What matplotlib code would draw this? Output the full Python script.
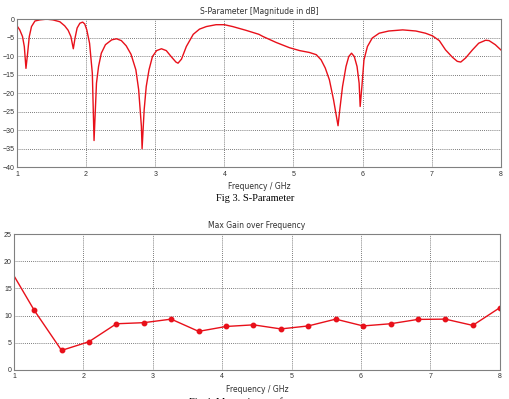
import numpy as np
import matplotlib
matplotlib.use('Agg')
import matplotlib.pyplot as plt

#----------S-parameter trace----------
s_freq = [1.00, 1.04, 1.08, 1.106, 1.13, 1.154, 1.178, 1.21, 1.26, 1.33, 1.43, 1.52, 1.62,
          1.69, 1.74, 1.78, 1.815, 1.84, 1.87, 1.91, 1.95, 1.98, 2.01, 2.05, 2.09, 2.115,
          2.15, 2.18, 2.22, 2.28, 2.37, 2.44, 2.51, 2.58, 2.65, 2.72, 2.76, 2.80, 2.81,
          2.84, 2.87, 2.91, 2.96, 3.02, 3.09, 3.16, 3.23, 3.30, 3.33, 3.38, 3.45, 3.55,
          3.64, 3.74, 3.88, 4.00, 4.12, 4.31, 4.50, 4.56, 4.75, 4.94, 5.09, 5.23, 5.33,
          5.40, 5.46, 5.52, 5.58, 5.63, 5.645, 5.67, 5.71, 5.76, 5.80, 5.84, 5.88, 5.92,
          5.95, 5.965, 5.99, 6.02, 6.07, 6.14, 6.24, 6.38, 6.58, 6.77, 6.91, 7.01, 7.11,
          7.20, 7.30, 7.37, 7.42, 7.49, 7.59, 7.68, 7.78, 7.83, 7.92, 8.00]
s_db = [-1.8, -2.9, -4.7, -7.4, -13.3, -9.2, -4.7, -2.0, -0.5, -0.2, 0.0, -0.2, -0.7,
        -1.8, -3.0, -4.7, -8.0, -5.1, -2.4, -1.1, -0.8, -1.3, -2.9, -6.5, -14.6, -32.8,
        -17.3, -12.8, -9.2, -6.9, -5.6, -5.3, -5.8, -7.2, -9.5, -13.7, -19.0, -29.0, -35.0,
        -24.5, -18.2, -13.7, -10.1, -8.5, -8.0, -8.5, -10.1, -11.6, -11.9, -10.8, -7.4, -4.1,
        -2.7, -2.0, -1.5, -1.5, -2.0, -3.0, -4.1, -4.7, -6.3, -7.7, -8.5, -9.0, -9.6,
        -11.0, -13.2, -16.4, -21.8, -27.2, -28.8, -24.5, -18.2, -12.8, -10.1, -9.2, -10.1, -12.8,
        -17.3, -23.6, -18.2, -11.0, -7.4, -5.1, -3.8, -3.2, -2.9, -3.2, -3.8, -4.5, -5.8,
        -8.3, -10.3, -11.4, -11.6, -10.5, -8.3, -6.5, -5.7, -5.8, -6.9, -8.3]

#----------max gain samples----------
g_freq = [1.00, 1.29, 1.685, 2.08, 2.475, 2.87, 3.265, 3.66, 4.055, 4.45, 4.845, 5.24,
          5.635, 6.03, 6.425, 6.82, 7.215, 7.61, 8.00]
g_val = [17.3, 11.0, 3.6, 5.2, 8.5, 8.7, 9.35, 7.1, 8.0, 8.3, 7.55, 8.1,
         9.35, 8.1, 8.5, 9.3, 9.35, 8.2, 11.45]

red = '#e8101a'

fig = plt.figure(figsize=(5.10, 3.99), dpi=100)

def style(ax):
    for sp in ax.spines.values():
        sp.set_color('#808080')
        sp.set_linewidth(0.8)
    ax.grid(True, color='#505050', linestyle=(0, (1, 1.5)), linewidth=0.6)
    ax.tick_params(length=0, pad=2.5, labelsize=5.0, labelcolor='#303030')
    ax.tick_params(axis='y', pad=1.5)
    for lab in ax.get_xticklabels() + ax.get_yticklabels():
        lab.set_family('Liberation Sans')

#=========================S-parameter==============================
ax1 = fig.add_axes([0.0333, 0.581, 0.9487, 0.371])
ax1.plot(s_freq, s_db, color=red, linewidth=1.0)
ax1.set_xlim(1, 8)
ax1.set_ylim(-40, 0)
ax1.set_xticks(range(1, 9))
ax1.set_yticks(range(-40, 1, 5))
style(ax1)
ax1.set_title('S-Parameter [Magnitude in dB]', fontsize=5.5, color='#303030', pad=4)
ax1.set_xlabel('Frequency / GHz', fontsize=5.5, color='#303030', labelpad=3)

fig.text(0.5, 0.503, 'Fig 3. S-Parameter', ha='center', va='center',
         family='Liberation Serif', fontsize=7.5, fontstretch='condensed')

#=========================Max gain==============================
ax2 = fig.add_axes([0.0275, 0.0727, 0.9525, 0.3408])
ax2.plot(g_freq, g_val, color=red, linewidth=1.0, marker='o', markersize=3.2,
         markevery=list(range(1, len(g_freq))))
ax2.set_xlim(1, 8)
ax2.set_ylim(0, 25)
ax2.set_xticks(range(1, 9))
ax2.set_yticks(range(0, 26, 5))
style(ax2)
ax2.set_title('Max Gain over Frequency', fontsize=5.5, color='#303030', pad=4)
ax2.set_xlabel('Frequency / GHz', fontsize=5.5, color='#303030', labelpad=3)

fig.text(0.5, -0.008, 'Fig 4. Max gain over frequency', ha='center', va='center',
         family='Liberation Serif', fontsize=7.5)

plt.savefig('out.png', dpi=100)
